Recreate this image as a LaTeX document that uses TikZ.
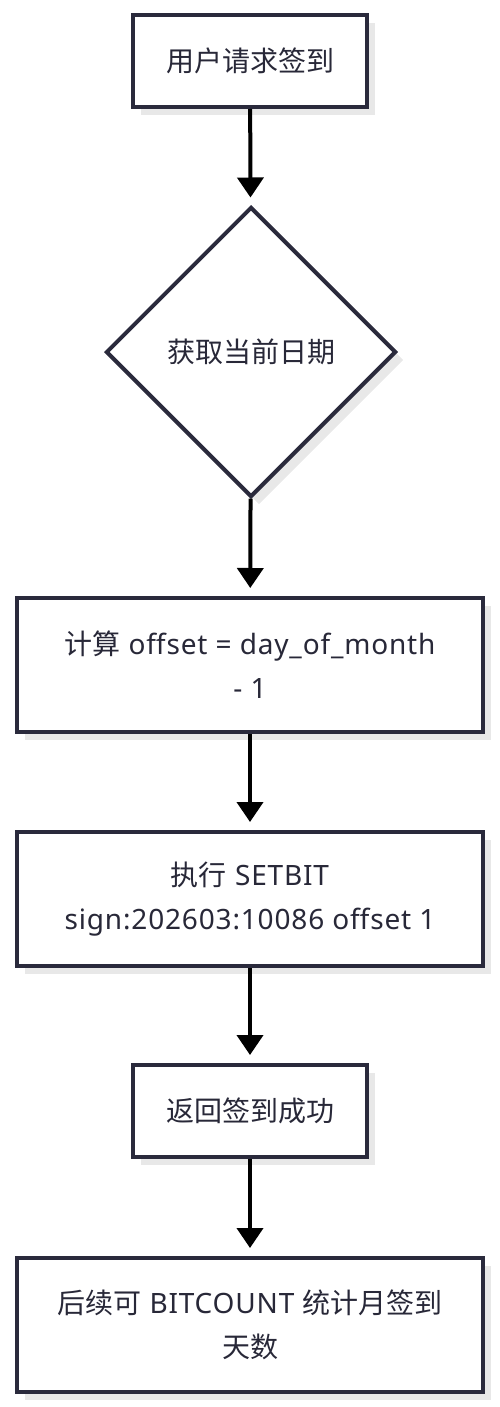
\documentclass[tikz,border=0pt]{standalone}
\usepackage{fontspec}
\setmainfont{Noto Sans}[LetterSpace=3]
\newfontfamily\cjk{Noto Sans CJK SC}
\usetikzlibrary{shapes.geometric,arrows.meta,shadows}

\definecolor{edge}{RGB}{42,42,60}
\definecolor{ink}{RGB}{40,40,56}
\tikzset{
	every node/.style={font=\fontsize{28}{44}\selectfont, text=ink, align=center},
	stepbox/.style={draw=edge, line width=4pt, fill=white, rectangle, inner sep=0pt,
		general shadow={fill=black!9, shadow xshift=8pt, shadow yshift=-8pt}},
	decide/.style={draw=edge, line width=4pt, fill=white, diamond, aspect=1, inner sep=0pt,
		minimum width=290pt, minimum height=290pt,
		general shadow={fill=black!9, shadow xshift=8pt, shadow yshift=-8pt}},
	flow/.style={line width=4pt, -{Triangle[length=20pt,width=26pt]}, shorten >=8pt}
}

\begin{document}
\begin{tikzpicture}[x=1pt, y=-1pt]
		\useasboundingbox (0,0) rectangle (500,1407);
		\node[stepbox, minimum width=234pt, minimum height=92pt] (req) at (250,61) {\cjk 用户请求签到};
		\node[decide] (date) at (251,352) {\cjk 获取当前日期};
		\node[stepbox, minimum width=466pt, minimum height=134pt] (calc) at (250,665)
			{{\cjk 计算} offset = day\_of\_month\\- 1};
		\node[stepbox, minimum width=466pt, minimum height=134pt] (exec) at (250,899)
			{{\cjk 执行} SETBIT\\sign:202603:10086 offset 1};
		\node[stepbox, minimum width=234pt, minimum height=92pt] (ok) at (250,1111) {\cjk 返回签到成功};
		\node[stepbox, minimum width=466pt, minimum height=134pt] (count) at (250,1325)
			{{\cjk 后续可} BITCOUNT {\cjk 统计月签到}\\{\cjk 天数}};

		\draw[flow] (req) -- (date);
		\draw[flow] (date) -- (calc);
		\draw[flow] (calc) -- (exec);
		\draw[flow] (exec) -- (ok);
		\draw[flow] (ok) -- (count);
	\end{tikzpicture}
\end{document}
